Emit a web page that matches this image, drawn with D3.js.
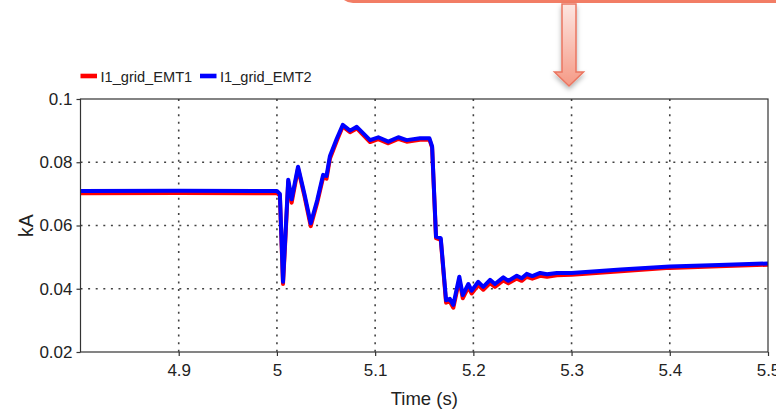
<!DOCTYPE html>
<html>
<head>
<meta charset="utf-8">
<script src="https://cdn.jsdelivr.net/npm/d3@7"></script>
<style>
  body { margin: 0; background: #fff; }
  svg { display: block; font-family: "Liberation Sans", Arial, sans-serif; }
  .grid line { stroke: #222; stroke-dasharray: 2,5.6; stroke-width: 1.6; opacity: 0.85; }
  .axis path, .axis line { stroke: #333; stroke-width: 1.2; }
  .axis text { fill: #222; font-size: 17px; }
</style>
</head>
<body>
<svg id="chart"></svg>
<script>
// (time in s, current in kA)
const timeValues = [4.800, 4.900, 5.000, 5.003, 5.0062, 5.0085, 5.0115, 5.0150, 5.0215, 5.0280,
  5.0344, 5.0410, 5.0470, 5.0505, 5.0540, 5.0610, 5.0670, 5.0744, 5.0813, 5.0948,
  5.1032, 5.1134, 5.1236, 5.1321, 5.1457, 5.1552, 5.1580, 5.1620, 5.1668, 5.1722,
  5.1760, 5.1796, 5.1857, 5.1892, 5.1949, 5.1983, 5.2050, 5.2101, 5.2170, 5.2220,
  5.2305, 5.2356, 5.2442, 5.2492, 5.2543, 5.2600, 5.2680, 5.2750, 5.2850, 5.3000,
  5.3500, 5.4000, 5.4500, 5.5000];

const emt1Values = [0.0702, 0.0703, 0.0702, 0.0695, 0.0415, 0.0550, 0.0738, 0.0672, 0.0780, 0.0693,
  0.0598, 0.0672, 0.0752, 0.0748, 0.0812, 0.0868, 0.0913, 0.0895, 0.0907, 0.0864,
  0.0873, 0.0860, 0.0874, 0.0865, 0.0871, 0.0872, 0.0846, 0.0560, 0.0555, 0.0356,
  0.0360, 0.0340, 0.0428, 0.0370, 0.0405, 0.0385, 0.0412, 0.0397, 0.0418, 0.0406,
  0.0426, 0.0417, 0.0432, 0.0425, 0.0438, 0.0432, 0.0441, 0.0438, 0.0443, 0.0444,
  0.0455, 0.0466, 0.0471, 0.0476];

const emt2Values = [0.0709, 0.0710, 0.0709, 0.0700, 0.0422, 0.0560, 0.0745, 0.0683, 0.0786, 0.0700,
  0.0607, 0.0680, 0.0760, 0.0757, 0.0820, 0.0875, 0.0918, 0.0900, 0.0912, 0.0870,
  0.0879, 0.0865, 0.0879, 0.0870, 0.0876, 0.0876, 0.0850, 0.0565, 0.0560, 0.0364,
  0.0368, 0.0349, 0.0438, 0.0380, 0.0415, 0.0394, 0.0422, 0.0406, 0.0428, 0.0415,
  0.0436, 0.0425, 0.0441, 0.0433, 0.0447, 0.0440, 0.0450, 0.0446, 0.0450, 0.0450,
  0.0461, 0.0470, 0.0475, 0.0480];

const seriesNames = ['I1_grid_EMT1', 'I1_grid_EMT2'];
const seriesColors = ['#ff0000', '#0000ff'];
const xTicks = [4.9, 5.0, 5.1, 5.2, 5.3, 5.4, 5.5];
const yTicks = [0.02, 0.04, 0.06, 0.08, 0.1];

class TimeChart {

  constructor(_config) {
    this.config = {
      parentElement: _config.parentElement,
      containerWidth: 776,
      containerHeight: 411,
      margin: { top: 99, bottom: 59, right: 8, left: 80.5 }
    };
    this.initVis();
  }

  initVis() {
    let vis = this;

    vis.width = vis.config.containerWidth - vis.config.margin.left - vis.config.margin.right;
    vis.height = vis.config.containerHeight - vis.config.margin.top - vis.config.margin.bottom;

    vis.xScale = d3.scaleLinear().domain([4.8, 5.5]).range([0, vis.width]);
    vis.yScale = d3.scaleLinear().domain([0.02, 0.1]).range([vis.height, 0]);

    vis.svg = d3.select(vis.config.parentElement)
      .attr('width', vis.config.containerWidth)
      .attr('height', vis.config.containerHeight);

    vis.drawCallout();

    vis.chart = vis.svg.append('g')
      .attr('transform', `translate(${vis.config.margin.left},${vis.config.margin.top})`);

    // dotted grid
    vis.chart.append('g').attr('class', 'grid')
      .selectAll('line.v').data(xTicks.filter(d => d < 5.5)).join('line')
      .attr('x1', d => vis.xScale(d)).attr('x2', d => vis.xScale(d))
      .attr('y1', 0).attr('y2', vis.height);
    vis.chart.append('g').attr('class', 'grid')
      .selectAll('line.h').data(yTicks.filter(d => d > 0.02 && d < 0.1)).join('line')
      .attr('x1', 0).attr('x2', vis.width)
      .attr('y1', d => vis.yScale(d)).attr('y2', d => vis.yScale(d));

    // lines, EMT1 under EMT2
    const line = d3.line()
      .x((d, i) => vis.xScale(timeValues[i]))
      .y(d => vis.yScale(d));

    [emt1Values, emt2Values].forEach((values, i) => {
      vis.chart.append('path')
        .datum(values)
        .attr('fill', 'none')
        .attr('stroke', seriesColors[i])
        .attr('stroke-width', 4)
        .attr('stroke-linejoin', 'round')
        .attr('d', line);
    });

    // frame + axes
    vis.chart.append('rect')
      .attr('width', vis.width).attr('height', vis.height)
      .attr('fill', 'none').attr('stroke', '#333').attr('stroke-width', 1.2);

    vis.xAxisG = vis.chart.append('g')
      .attr('class', 'axis x-axis')
      .attr('transform', `translate(0,${vis.height})`)
      .call(d3.axisBottom(vis.xScale).tickValues(xTicks).tickSize(4).tickPadding(8)
        .tickFormat(d3.format('~g')));
    vis.xAxisG.select('.domain').remove();

    vis.yAxisG = vis.chart.append('g')
      .attr('class', 'axis y-axis')
      .call(d3.axisLeft(vis.yScale).tickValues(yTicks).tickSize(4).tickPadding(4)
        .tickFormat(d3.format('~g')));
    vis.yAxisG.select('.domain').remove();

    vis.chart.append('text')
      .attr('x', vis.width / 2)
      .attr('y', vis.height + 53)
      .attr('text-anchor', 'middle')
      .style('font-size', '18.5px').style('fill', '#222')
      .text('Time (s)');

    vis.chart.append('text')
      .attr('transform', `translate(${-48},${vis.height / 2}) rotate(-90)`)
      .attr('text-anchor', 'middle')
      .style('font-size', '19.5px').style('fill', '#222')
      .text('kA');

    // legend
    const legend = vis.svg.append('g').attr('transform', 'translate(80.5,76)');
    const offsets = [0, 119.5];
    seriesNames.forEach((name, i) => {
      const g = legend.append('g').attr('transform', `translate(${offsets[i]},0)`);
      g.append('rect').attr('x', 0).attr('y', -2.3).attr('width', 16.5).attr('height', 4.6)
        .attr('fill', seriesColors[i]);
      g.append('text').attr('x', 20).attr('y', 5.5)
        .style('font-size', '14.6px').style('fill', '#222')
        .text(name);
    });
  }

  drawCallout() {
    let vis = this;
    const defs = vis.svg.append('defs');
    const grad = defs.append('linearGradient').attr('id', 'arrowFill')
      .attr('x1', 0).attr('y1', 0).attr('x2', 0).attr('y2', 1);
    grad.append('stop').attr('offset', '0%').attr('stop-color', '#fde6e1');
    grad.append('stop').attr('offset', '100%').attr('stop-color', '#f59a86');
    defs.append('filter').attr('id', 'shadow')
      .attr('x', '-50%').attr('y', '-20%').attr('width', '200%').attr('height', '150%')
      .append('feDropShadow')
      .attr('dx', 0).attr('dy', 3).attr('stdDeviation', 2.5)
      .attr('flood-color', '#000').attr('flood-opacity', 0.3);

    // box sticking out from the top edge
    vis.svg.append('rect')
      .attr('x', 338).attr('y', -30).attr('width', 470).attr('height', 33).attr('rx', 15)
      .attr('fill', '#f27d65');

    // down arrow
    const cx = 569;
    const pts = [[cx - 7, 4], [cx + 7, 4], [cx + 7, 72], [cx + 14.5, 72], [cx, 86],
      [cx - 14.5, 72], [cx - 7, 72]];
    vis.svg.append('path')
      .attr('d', d3.line()(pts) + 'Z')
      .attr('fill', 'url(#arrowFill)')
      .attr('stroke', '#ea7560').attr('stroke-width', 1.5)
      .attr('stroke-linejoin', 'miter')
      .attr('filter', 'url(#shadow)');
  }
}

new TimeChart({ parentElement: '#chart' });
</script>
</body>
</html>
